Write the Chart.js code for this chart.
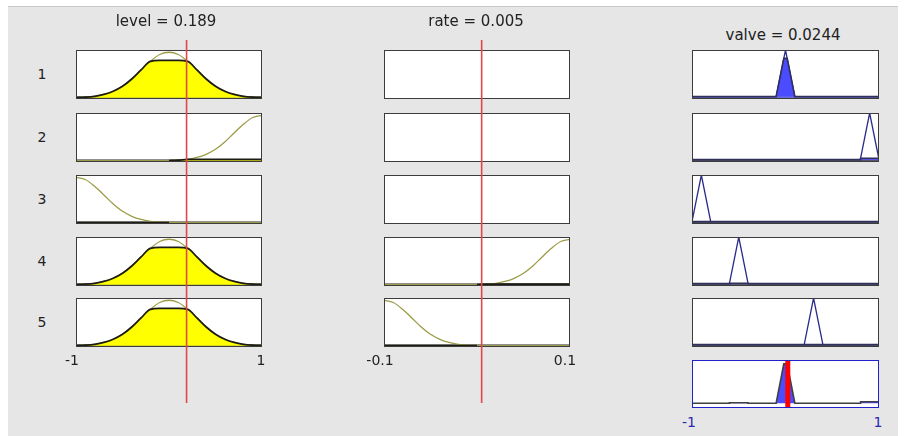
<!DOCTYPE html>
<html>
<head>
<meta charset="utf-8">
<script src="https://cdn.jsdelivr.net/npm/chart.js@4"></script>
<style>
  body { margin: 0; background: #fff; width: 906px; height: 436px; overflow: hidden; font-family: "DejaVu Sans", sans-serif; }
  #panel { position: absolute; left: 8px; top: 6px; width: 890px; height: 430px; background: #e6e6e6; border-top: 1px solid #c8c8c8; }
  canvas { position: absolute; }
  .lbl { position: absolute; font-size: 15px; color: #222; white-space: nowrap; transform: translate(-50%, -50%); }
  .tick { font-size: 14px; }
  .blue { color: #2b2bb0; }
</style>
</head>
<body>
<div id="panel"></div>
<script>
// crisp values
const levelInput = 0.189;
const rateInput = 0.005;
const valveOutput = 0.0244;

const levelX = [-1, -0.9, -0.8, -0.7, -0.6, -0.5, -0.4, -0.3, -0.2, -0.1, 0, 0.1, 0.2, 0.3, 0.4, 0.5, 0.6, 0.7, 0.8, 0.9, 1];
const levelHigh = [1.00, 0.95, 0.80, 0.61, 0.41, 0.25, 0.14, 0.07, 0.03, 0.01, 0, 0, 0, 0, 0, 0, 0, 0, 0, 0, 0];
const levelOkay = [0, 0.01, 0.03, 0.07, 0.14, 0.25, 0.41, 0.61, 0.80, 0.95, 1.00, 0.95, 0.80, 0.61, 0.41, 0.25, 0.14, 0.07, 0.03, 0.01, 0];
const levelLow = [0, 0, 0, 0, 0, 0, 0, 0, 0, 0, 0, 0.01, 0.03, 0.07, 0.14, 0.25, 0.41, 0.61, 0.80, 0.95, 1.00];

const rateX = [-0.1, -0.09, -0.08, -0.07, -0.06, -0.05, -0.04, -0.03, -0.02, -0.01, 0, 0.01, 0.02, 0.03, 0.04, 0.05, 0.06, 0.07, 0.08, 0.09, 0.1];
const rateNeg = [1.00, 0.95, 0.80, 0.61, 0.41, 0.25, 0.14, 0.07, 0.03, 0.01, 0, 0, 0, 0, 0, 0, 0, 0, 0, 0, 0];
const ratePos = [0, 0, 0, 0, 0, 0, 0, 0, 0, 0, 0, 0.01, 0.03, 0.07, 0.14, 0.25, 0.41, 0.61, 0.80, 0.95, 1.00];

// output triangles [left, peak, right]
const valveCloseFast = [-1, -0.9, -0.8];
const valveCloseSlow = [-0.6, -0.5, -0.4];
const valveNoChange = [-0.1, 0, 0.1];
const valveOpenSlow = [0.2, 0.3, 0.4];
const valveOpenFast = [0.8, 0.9, 1];

// rules (rows)
const ruleLevel = [levelOkay, levelLow, levelHigh, levelOkay, levelOkay];
const ruleRate = [null, null, null, ratePos, rateNeg];
const ruleValve = [valveNoChange, valveOpenFast, valveCloseFast, valveCloseSlow, valveOpenSlow];
const levelDegree = [0.82, 0.03, 0, 0.82, 0.82];
const rateDegree = [null, null, null, 0.01, 0];

// layout
const colLeft = [76, 384, 692];
const colWidth = [186, 186, 187];
const rowTop = [50, 113, 175, 237, 298];
const boxH = 49;
const aggTop = 360, aggH = 48;

const boxPlugin = {
  id: 'box',
  beforeDraw(chart, args, opts) {
    const a = chart.chartArea, ctx = chart.ctx;
    ctx.save();
    ctx.fillStyle = '#fff';
    ctx.fillRect(a.left, a.top, a.right - a.left, a.bottom - a.top);
    ctx.restore();
  },
  beforeDatasetsDraw(chart, args, opts) {
    if (!opts.base) return;
    const a = chart.chartArea, ctx = chart.ctx;
    // heavy baseline under the plotted functions
    ctx.save();
    ctx.strokeStyle = opts.base;
    ctx.lineWidth = 2.5;
    ctx.beginPath();
    ctx.moveTo(a.left, a.bottom - 1.5);
    ctx.lineTo(a.right, a.bottom - 1.5);
    ctx.stroke();
    ctx.restore();
  },
  afterDraw(chart, args, opts) {
    const a = chart.chartArea, ctx = chart.ctx;
    ctx.save();
    ctx.strokeStyle = opts.color || '#3c3c3c';
    ctx.lineWidth = 1;
    ctx.strokeRect(a.left + 0.5, a.top + 0.5, a.right - a.left - 1, a.bottom - a.top - 1);
    ctx.restore();
  }
};

function makeChart(left, top, w, h, xr, yr, datasets, box) {
  const c = document.createElement('canvas');
  c.width = w; c.height = h;
  c.style.left = left + 'px'; c.style.top = top + 'px';
  c.style.width = w + 'px'; c.style.height = h + 'px';
  document.body.appendChild(c);
  return new Chart(c, {
    type: 'line',
    data: { datasets },
    options: {
      responsive: false,
      animation: false,
      events: [],
      layout: { padding: 0 },
      elements: { point: { radius: 0 }, line: { borderCapStyle: 'butt' } },
      plugins: { legend: { display: false }, tooltip: { enabled: false }, box: box },
      scales: {
        x: { type: 'linear', min: xr[0], max: xr[1], display: false },
        y: { type: 'linear', min: yr[0], max: yr[1], display: false }
      }
    },
    plugins: box ? [boxPlugin] : []
  });
}

function points(xs, ys) {
  return xs.map((x, i) => ({ x, y: ys[i] }));
}

// membership function cut at the degree, kept where the curve is above zero
function clipped(xs, ys, h) {
  let first = ys.findIndex(v => v > 0);
  let last = ys.length - 1 - [...ys].reverse().findIndex(v => v > 0);
  first = Math.max(0, first - 1);
  last = Math.min(ys.length - 1, last + 1);
  const pts = [];
  for (let i = first; i <= last; i++) pts.push({ x: xs[i], y: Math.min(ys[i], h) });
  return pts;
}

function trap(t, h) {
  return [
    { x: t[0], y: 0 },
    { x: t[0] + h * (t[1] - t[0]), y: h },
    { x: t[2] - h * (t[2] - t[1]), y: h },
    { x: t[2], y: 0 }
  ];
}

function inputSets(xs, ys, h) {
  return [
    { data: points(xs, ys), borderColor: '#9c9c48', borderWidth: 1.3, cubicInterpolationMode: 'monotone', fill: false, order: 2 },
    { data: clipped(xs, ys, h), borderColor: '#1c1c14', borderWidth: 1.8, backgroundColor: '#ffff00', cubicInterpolationMode: 'monotone', fill: 'origin', order: 1 }
  ];
}

const yIn = [-0.03, 1.05];
const yOut = [-0.05, 1.0];

for (let r = 0; r < 5; r++) {
  // level column
  makeChart(colLeft[0], rowTop[r], colWidth[0], boxH, [-1, 1], yIn,
    inputSets(levelX, ruleLevel[r], levelDegree[r]), { base: '#6a6a6a' });

  // rate column
  const rateSets = ruleRate[r] ? inputSets(rateX, ruleRate[r], rateDegree[r]) : [];
  makeChart(colLeft[1], rowTop[r], colWidth[1], boxH, [-0.1, 0.1], yIn, rateSets,
    ruleRate[r] ? { base: '#6a6a6a' } : {});

  // valve column
  const t = ruleValve[r];
  const fire = ruleRate[r] ? Math.min(levelDegree[r], rateDegree[r]) : levelDegree[r];
  const cut = [{ x: -1, y: 0 }, ...trap(t, fire), { x: 1, y: 0 }];
  makeChart(colLeft[2], rowTop[r], colWidth[2], boxH, [-1, 1], yOut, [
    { data: [{ x: t[0], y: 0 }, { x: t[1], y: 1 }, { x: t[2], y: 0 }], borderColor: '#2a2a8a', borderWidth: 1.3, fill: false, order: 2 },
    { data: cut, borderColor: '#30305a', borderWidth: 1.6, backgroundColor: '#4b4bff', fill: 'origin', order: 1 }
  ], { base: r === 0 ? '#6a6ad0' : '#555570' });
}

// aggregated output
const fires = ruleValve.map((t, r) => ruleRate[r] ? Math.min(levelDegree[r], rateDegree[r]) : levelDegree[r]);
const order = ruleValve.map((t, r) => r).sort((a, b) => ruleValve[a][0] - ruleValve[b][0]);
let agg = [{ x: -1, y: 0 }];
order.forEach(r => { agg = agg.concat(trap(ruleValve[r], fires[r])); });
agg.push({ x: 1, y: 0 });
const yAgg = [-0.1, 0.9];
makeChart(colLeft[2], aggTop, colWidth[2], aggH, [-1, 1], yAgg, [
  { data: [{ x: valveOutput, y: yAgg[0] }, { x: valveOutput, y: yAgg[1] }], borderColor: '#ff0000', borderWidth: 5, fill: false, order: 1 },
  { data: agg, borderColor: '#404040', borderWidth: 1.6, backgroundColor: '#4b4bff', fill: 'origin', order: 2 }
], { color: '#2222cc' });

// red input lines over the rule rows
const lineTop = 40, lineBottom = 403;
makeChart(colLeft[0], lineTop, colWidth[0], lineBottom - lineTop, [-1, 1], [0, 1], [
  { data: [{ x: levelInput, y: 0 }, { x: levelInput, y: 1 }], borderColor: '#e04848', borderWidth: 1.6, fill: false }
], false);
makeChart(colLeft[1], lineTop, colWidth[1], lineBottom - lineTop, [-0.1, 0.1], [0, 1], [
  { data: [{ x: rateInput, y: 0 }, { x: rateInput, y: 1 }], borderColor: '#e04848', borderWidth: 1.6, fill: false }
], false);

// text
function label(text, cx, cy, cls) {
  const d = document.createElement('div');
  d.className = 'lbl' + (cls ? ' ' + cls : '');
  d.textContent = text;
  d.style.left = cx + 'px';
  d.style.top = cy + 'px';
  document.body.appendChild(d);
}
label('level = ' + levelInput, 166, 21);
label('rate = ' + rateInput, 476, 21);
label('valve = ' + valveOutput, 783, 35);
rowTop.forEach((t, r) => label(String(r + 1), 42, t + 24, 'tick'));
label('-1', 72, 360, 'tick');
label('1', 261, 360, 'tick');
label('-0.1', 380, 360, 'tick');
label('0.1', 565, 360, 'tick');
label('-1', 689, 422, 'tick blue');
label('1', 878, 422, 'tick blue');
</script>
</body>
</html>
